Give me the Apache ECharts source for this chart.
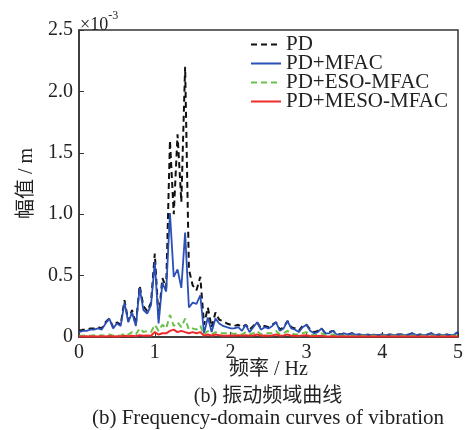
<!DOCTYPE html>
<html>
<head>
<meta charset="utf-8">
<script src="https://cdn.jsdelivr.net/npm/echarts@6/dist/echarts.min.js"></script>
<style>
  html, body { margin: 0; padding: 0; background: #fff; }
  #main { width: 468px; height: 430px; }
</style>
</head>
<body>
<div id="main"></div>
<script>
  // 频率步长 (Hz)，幅值单位 ×10^-3 m
  const df = 0.05;
  const xTicks = [0, 1, 2, 3, 4, 5];
  const yTicks = [0, 0.5, 1.0, 1.5, 2.0, 2.5];

  const pd = [
    0.05, 0.06, 0.06, 0.07, 0.07, 0.08, 0.07, 0.12, 0.15, 0.08,
    0.12, 0.10, 0.30, 0.13, 0.22, 0.10, 0.42, 0.25, 0.21, 0.28,
    0.68, 0.15, 0.48, 0.40, 1.60, 1.00, 1.65, 1.10, 2.20, 0.55,
    0.42, 0.38, 0.49, 0.10, 0.24, 0.08, 0.20, 0.14, 0.13, 0.11,
    0.10, 0.09, 0.10, 0.08, 0.10, 0.06, 0.09, 0.12, 0.07, 0.09,
    0.08, 0.10, 0.12, 0.06, 0.08, 0.13, 0.08, 0.07, 0.05, 0.09,
    0.10, 0.06, 0.04, 0.05, 0.07, 0.03, 0.04, 0.05, 0.03, 0.02,
    0.03, 0.02, 0.03, 0.02, 0.02, 0.015, 0.02, 0.015, 0.02, 0.015,
    0.02, 0.015, 0.02, 0.015, 0.02, 0.02, 0.015, 0.02, 0.03, 0.015,
    0.02, 0.015, 0.02, 0.03, 0.015, 0.02, 0.015, 0.02, 0.015, 0.02,
    0.04
  ];
  const pdMfac = [
    0.04, 0.05, 0.05, 0.06, 0.06, 0.07, 0.06, 0.11, 0.15, 0.07,
    0.11, 0.09, 0.28, 0.12, 0.20, 0.09, 0.40, 0.22, 0.19, 0.26,
    0.61, 0.11, 0.44, 0.37, 1.01, 0.49, 0.55, 0.40, 0.85, 0.24,
    0.28, 0.27, 0.34, 0.03, 0.16, 0.04, 0.15, 0.11, 0.09, 0.08,
    0.07, 0.07, 0.08, 0.05, 0.10, 0.04, 0.08, 0.12, 0.06, 0.08,
    0.07, 0.09, 0.12, 0.05, 0.07, 0.13, 0.07, 0.06, 0.04, 0.08,
    0.10, 0.05, 0.03, 0.04, 0.07, 0.03, 0.03, 0.05, 0.02, 0.02,
    0.03, 0.02, 0.03, 0.02, 0.02, 0.015, 0.02, 0.015, 0.02, 0.015,
    0.02, 0.015, 0.02, 0.015, 0.02, 0.02, 0.015, 0.02, 0.03, 0.015,
    0.02, 0.015, 0.02, 0.03, 0.015, 0.02, 0.015, 0.02, 0.015, 0.02,
    0.04
  ];
  const pdEsoMfac = [
    0.01, 0.01, 0.015, 0.01, 0.015, 0.01, 0.015, 0.01, 0.02, 0.01,
    0.015, 0.01, 0.03, 0.02, 0.04, 0.02, 0.07, 0.04, 0.05, 0.04,
    0.10, 0.05, 0.10, 0.07, 0.18, 0.09, 0.12, 0.08, 0.15, 0.06,
    0.07, 0.06, 0.09, 0.02, 0.05, 0.02, 0.04, 0.03, 0.03, 0.03,
    0.03, 0.025, 0.03, 0.02, 0.04, 0.02, 0.03, 0.05, 0.02, 0.03,
    0.03, 0.03, 0.05, 0.02, 0.03, 0.05, 0.03, 0.02, 0.02, 0.03,
    0.04, 0.02, 0.015, 0.02, 0.03, 0.015, 0.015, 0.02, 0.01, 0.01,
    0.01, 0.01, 0.01, 0.01, 0.01, 0.01, 0.01, 0.01, 0.01, 0.01,
    0.01, 0.01, 0.01, 0.01, 0.01, 0.01, 0.01, 0.01, 0.01, 0.01,
    0.01, 0.01, 0.01, 0.01, 0.01, 0.01, 0.01, 0.01, 0.01, 0.01,
    0.01
  ];
  const pdMesoMfac = [
    0.005, 0.005, 0.006, 0.005, 0.006, 0.005, 0.006, 0.005, 0.008, 0.005,
    0.006, 0.005, 0.01, 0.006, 0.01, 0.006, 0.015, 0.01, 0.012, 0.01,
    0.04, 0.02, 0.03, 0.03, 0.05, 0.06, 0.04, 0.05, 0.04, 0.03,
    0.04, 0.03, 0.04, 0.01, 0.02, 0.01, 0.02, 0.015, 0.01, 0.01,
    0.012, 0.01, 0.015, 0.01, 0.015, 0.01, 0.012, 0.02, 0.01, 0.012,
    0.01, 0.012, 0.02, 0.01, 0.012, 0.02, 0.01, 0.01, 0.008, 0.012,
    0.015, 0.008, 0.006, 0.008, 0.01, 0.005, 0.005, 0.006, 0.005, 0.005,
    0.005, 0.005, 0.005, 0.005, 0.005, 0.005, 0.005, 0.005, 0.005, 0.005,
    0.005, 0.005, 0.005, 0.005, 0.005, 0.005, 0.005, 0.005, 0.005, 0.005,
    0.005, 0.005, 0.005, 0.005, 0.005, 0.005, 0.005, 0.005, 0.005, 0.005,
    0.005
  ];

  const seriesNames = ['PD', 'PD+MFAC', 'PD+ESO-MFAC', 'PD+MESO-MFAC'];

  const serif = '"Liberation Serif", "Noto Sans CJK SC", serif';
  const toPairs = arr => arr.map((v, i) => [i * df, v]);

  let myChart = echarts.init(document.getElementById('main'));
  myChart.setOption({
    animation: false,
    backgroundColor: '#fff',
    textStyle: { fontFamily: serif, color: '#222' },
    title: [
      {
        text: '(b) 振动频域曲线',
        left: 268,
        textAlign: 'center',
        top: 387,
        padding: 0,
        textStyle: { fontFamily: serif, fontSize: 20, fontWeight: 'normal', color: '#222' }
      },
      {
        text: '(b) Frequency-domain curves of vibration',
        left: 268,
        textAlign: 'center',
        top: 408,
        padding: 0,
        textStyle: { fontFamily: serif, fontSize: 21, fontWeight: 'normal', color: '#222' }
      },
      {
        text: '{a|×10}{b|-3}',
        left: 80,
        top: 10,
        padding: 0,
        textStyle: {
          fontWeight: 'normal',
          rich: {
            a: { fontFamily: serif, fontSize: 18, fontWeight: 'normal', color: '#222', padding: [6, 0, 0, 0] },
            b: { fontFamily: serif, fontSize: 12, fontWeight: 'normal', color: '#222', verticalAlign: 'top' }
          }
        }
      }
    ],
    legend: {
      orient: 'vertical',
      left: 250,
      top: 34,
      padding: 0,
      itemWidth: 30,
      itemHeight: 10,
      itemGap: -2,
      itemStyle: { opacity: 0 },
      textStyle: { fontFamily: serif, fontSize: 21, lineHeight: 18, color: '#222' },
      data: seriesNames
    },
    grid: {
      show: true,
      left: 79,
      right: 10,
      top: 30,
      bottom: 93,
      borderColor: '#333',
      borderWidth: 1.5
    },
    xAxis: {
      type: 'value',
      min: xTicks[0],
      max: xTicks[xTicks.length - 1],
      interval: 1,
      name: '频率 / Hz',
      nameLocation: 'middle',
      nameGap: 23,
      nameMoveOverlap: false,
      nameTextStyle: { fontFamily: serif, fontSize: 20, color: '#222' },
      splitLine: { show: false },
      axisLine: { lineStyle: { color: '#333', width: 1.5 } },
      axisTick: { inside: true, length: 5, lineStyle: { color: '#333' } },
      axisLabel: { fontFamily: serif, fontSize: 20, color: '#222', margin: 6 }
    },
    yAxis: {
      type: 'value',
      min: yTicks[0],
      max: yTicks[yTicks.length - 1],
      interval: 0.5,
      name: '幅值 / m',
      nameLocation: 'middle',
      nameGap: 42,
      nameMoveOverlap: false,
      nameTextStyle: { fontFamily: serif, fontSize: 20, color: '#222' },
      splitLine: { show: false },
      axisLine: { lineStyle: { color: '#333', width: 1.5 } },
      axisTick: { inside: true, length: 5, lineStyle: { color: '#333' } },
      axisLabel: {
        fontFamily: serif, fontSize: 20, color: '#222', margin: 6,
        formatter: v => (v === 0 ? '0' : v.toFixed(1))
      }
    },
    series: [
      {
        name: seriesNames[0],
        type: 'line',
        data: toPairs(pd),
        symbol: 'none',
        lineStyle: { color: '#111', width: 2, type: [6, 4] },
        itemStyle: { color: '#111' }
      },
      {
        name: seriesNames[1],
        type: 'line',
        data: toPairs(pdMfac),
        symbol: 'none',
        lineStyle: { color: '#2a50b8', width: 1.8 },
        itemStyle: { color: '#2a50b8' }
      },
      {
        name: seriesNames[2],
        type: 'line',
        data: toPairs(pdEsoMfac),
        symbol: 'none',
        lineStyle: { color: '#6cc04a', width: 2, type: [6, 4] },
        itemStyle: { color: '#6cc04a' }
      },
      {
        name: seriesNames[3],
        type: 'line',
        data: toPairs(pdMesoMfac),
        symbol: 'none',
        lineStyle: { color: '#ee2a2a', width: 2 },
        itemStyle: { color: '#ee2a2a' }
      }
    ]
  });
  window.onresize = myChart.resize;
</script>
</body>
</html>
